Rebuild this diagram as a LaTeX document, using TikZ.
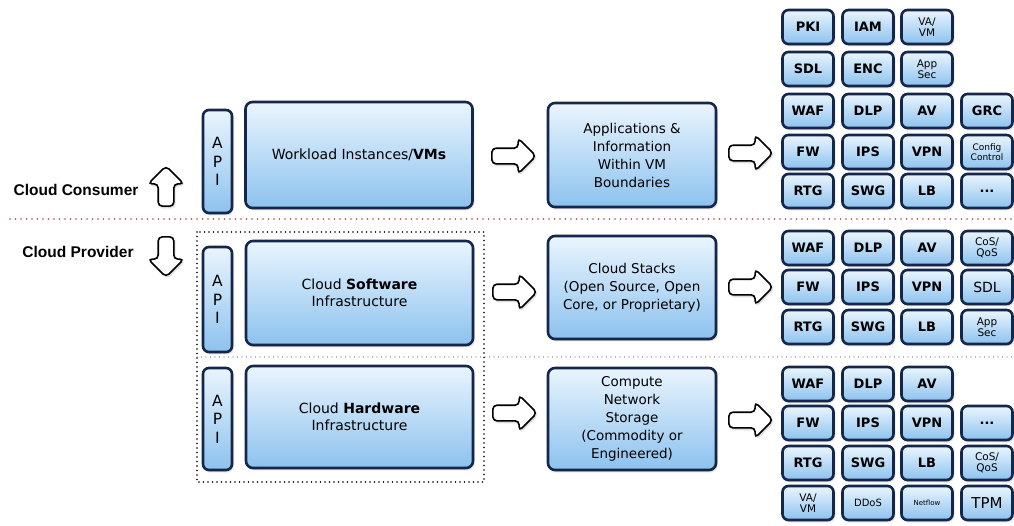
\documentclass[tikz,border=0pt]{standalone}
\usepackage{fontspec}
\usepackage{tikz}
\usetikzlibrary{shapes.arrows}
\usetikzlibrary{shadows.blur}
\newfontfamily\boxfont{DejaVu Sans}
\newfontfamily\lblfont{Liberation Sans}
\definecolor{boxtop}{HTML}{EAF5FE}
\definecolor{boxbot}{HTML}{8CC2EE}
\definecolor{boxline}{HTML}{14264A}
\definecolor{consline}{HTML}{C43A30}

\begin{document}
\begin{tikzpicture}[x=1pt, y=-1pt,
			box/.style={draw=boxline, line width=2.6pt, rounded corners=7pt,
							top color=boxtop, bottom color=boxbot, align=center, inner sep=0pt,
							blur shadow={shadow xshift=1pt, shadow yshift=-1.5pt, shadow opacity=25},
							font=\boxfont\fontsize{14}{17}\selectfont},
			big/.style={box, minimum width=227pt, minimum height=104pt},
			mid/.style={box, minimum width=168pt, minimum height=103pt,
							font=\boxfont\fontsize{13.5}{18}\selectfont},
			api/.style={box, minimum width=29pt, minimum height=103pt, rounded corners=6pt,
							font=\boxfont\fontsize{15.5}{18.5}\selectfont},
			tag/.style={box, minimum width=51pt, minimum height=34pt, rounded corners=6pt,
							font=\boxfont\bfseries\fontsize{13}{13}\selectfont},
			sm/.style={tag, font=\boxfont\fontsize{10.5}{11.5}\selectfont},
			harrow/.style={single arrow, draw=black, line width=1.6pt, fill=white,
							minimum height=44pt, minimum width=34pt, single arrow head extend=10pt,
							inner sep=7pt, rounded corners=4pt,
							blur shadow={shadow xshift=1pt, shadow yshift=-1.5pt, shadow opacity=25}},
			side/.style={font=\lblfont\bfseries\fontsize{15.5}{18}\selectfont},
			sep/.style={line width=1.4pt, line cap=round, dash pattern=on 0pt off 4.5pt}]

		\useasboundingbox (0,0) rectangle (1014,525);

		% consumer / provider split
		\coordinate (cl) at (10,219);
		\coordinate (cr) at (1014,219);
		\draw[sep, consline, line width=1.9pt, dash pattern=on 0pt off 5.5pt] (cl) -- (cr);
		\node[side] (cons) at (76,190) {Cloud Consumer};
		\node[harrow, minimum height=40pt, shape border rotate=90] (up) at (166,190) {};
		\node[side] (prov) at (78,252) {Cloud Provider};
		\node[harrow, minimum height=40pt, shape border rotate=270] (down) at (166,253) {};

		\coordinate (pa) at (197,232);
		\coordinate (pb) at (484,482);
		\draw[sep, black, line width=1.8pt] (pa) rectangle (pb);
		\coordinate (gl) at (197,357);
		\coordinate (gr) at (1014,357);
		\draw[sep, black!60] (gl) -- (gr);

		% workload row
		\node[api] (api1) at (217.5,161.5) {A\\P\\I};
		\node[big, minimum height=106pt] (work) at (359,155) {Workload Instances/\textbf{VMs}};
		\node[harrow] (a1) at (510,156) {};
		\node[mid, minimum height=104pt] (apps) at (632,155) {Applications \&\\Information\\Within VM\\Boundaries};
		\node[harrow] (a2) at (747,153) {};

		% software row
		\node[api, minimum height=105pt] (api2) at (217.5,299.5) {A\\P\\I};
		\node[big] (soft) at (359.5,293) {Cloud \textbf{Software}\\Infrastructure};
		\node[harrow] (a3) at (511,292) {};
		\node[mid] (stack) at (632,287.5) {Cloud Stacks\\(Open Source, Open\\Core, or Proprietary)};
		\node[harrow] (a4) at (747,287) {};

		% hardware row
		\node[api, minimum height=102pt] (api3) at (217.5,419) {A\\P\\I};
		\node[big, minimum height=102pt] (hard) at (359.5,417) {Cloud \textbf{Hardware}\\Infrastructure};
		\node[harrow] (a5) at (511,413) {};
		\node[mid, minimum height=102pt] (comp) at (632,419) {Compute\\Network\\Storage\\(Commodity or\\Engineered)};
		\node[harrow] (a6) at (747,420) {};

		% workload controls
		\node[tag] (w-pki) at (808,27) {PKI};
		\node[tag] (w-iam) at (868,27) {IAM};
		\node[sm] (w-vavm) at (927,27) {VA/\\VM};
		\node[tag] (w-sdl) at (808,69) {SDL};
		\node[tag] (w-enc) at (868,69) {ENC};
		\node[sm] (w-app) at (927,69) {App\\Sec};
		\node[tag] (w-waf) at (808,111) {WAF};
		\node[tag] (w-dlp) at (868,111) {DLP};
		\node[tag] (w-av) at (927,111) {AV};
		\node[tag] (w-grc) at (987,111) {GRC};
		\node[tag] (w-fw) at (808,152) {FW};
		\node[tag] (w-ips) at (868,152) {IPS};
		\node[tag] (w-vpn) at (927,152) {VPN};
		\node[sm, font=\boxfont\fontsize{9}{10.5}\selectfont] (w-cfg) at (987,152) {Config\\Control};
		\node[tag] (w-rtg) at (808,191) {RTG};
		\node[tag] (w-swg) at (868,191) {SWG};
		\node[tag] (w-lb) at (927,191) {LB};
		\node[tag] (w-more) at (987,191) {...};

		% software controls
		\node[tag] (s-waf) at (808,248) {WAF};
		\node[tag] (s-dlp) at (868,248) {DLP};
		\node[tag] (s-av) at (927,248) {AV};
		\node[sm] (s-cos) at (987,248) {CoS/\\QoS};
		\node[tag] (s-fw) at (808,287) {FW};
		\node[tag] (s-ips) at (868,287) {IPS};
		\node[tag] (s-vpn) at (927,287) {VPN};
		\node[tag, font=\boxfont\fontsize{14}{15}\selectfont] (s-sdl) at (987,287) {SDL};
		\node[tag] (s-rtg) at (808,327) {RTG};
		\node[tag] (s-swg) at (868,327) {SWG};
		\node[tag] (s-lb) at (927,327) {LB};
		\node[sm] (s-app) at (987,327) {App\\Sec};

		% hardware controls
		\node[tag] (h-waf) at (808,384) {WAF};
		\node[tag] (h-dlp) at (868,384) {DLP};
		\node[tag] (h-av) at (927,384) {AV};
		\node[tag] (h-fw) at (808,423) {FW};
		\node[tag] (h-ips) at (868,423) {IPS};
		\node[tag] (h-vpn) at (927,423) {VPN};
		\node[tag] (h-more) at (987,423) {...};
		\node[tag] (h-rtg) at (808,463) {RTG};
		\node[tag] (h-swg) at (868,463) {SWG};
		\node[tag] (h-lb) at (927,463) {LB};
		\node[sm] (h-cos) at (987,463) {CoS/\\QoS};
		\node[sm] (h-vavm) at (808,503) {VA/\\VM};
		\node[sm, font=\boxfont\fontsize{10}{11}\selectfont] (h-ddos) at (868,503) {DDoS};
		\node[sm, font=\boxfont\fontsize{7}{8}\selectfont] (h-net) at (927,503) {Netflow};
		\node[tag, font=\boxfont\fontsize{15}{15}\selectfont] (h-tpm) at (987,503) {TPM};
	\end{tikzpicture}
\end{document}
